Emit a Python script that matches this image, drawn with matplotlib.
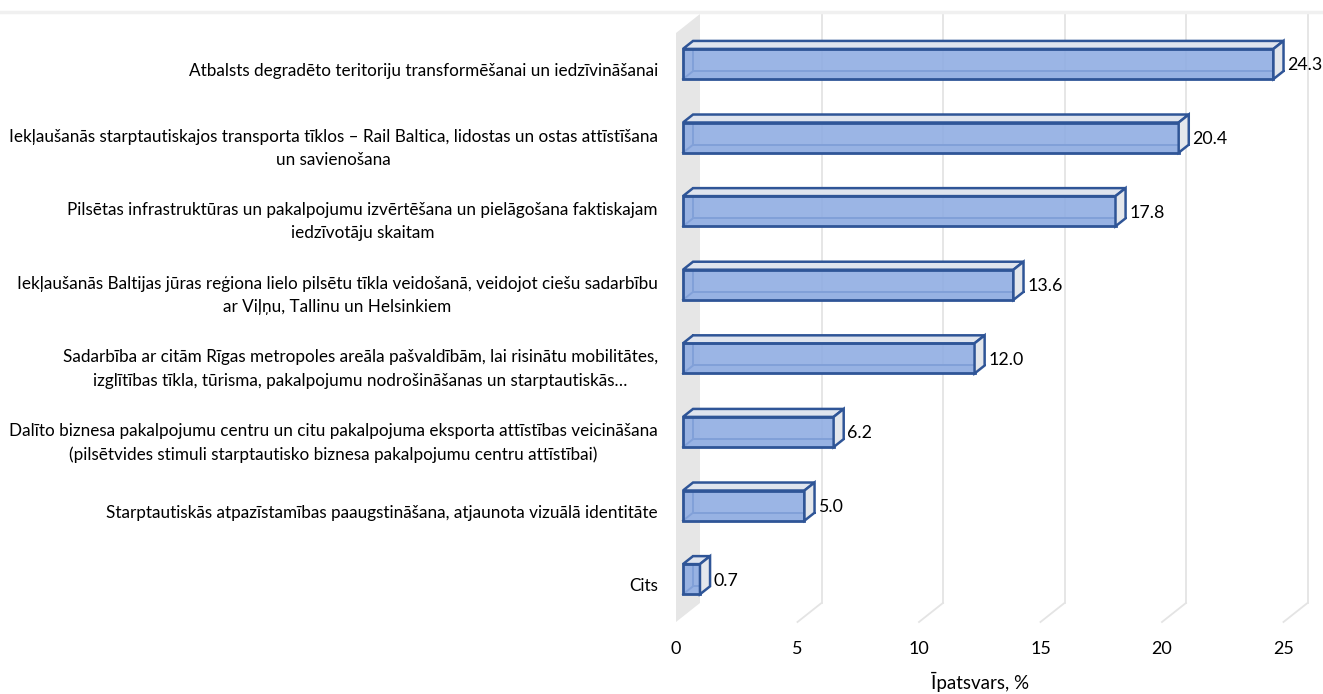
import matplotlib
matplotlib.use("Agg")
import matplotlib.pyplot as plt
from matplotlib.patches import Polygon
from matplotlib.lines import Line2D

plt.rcParams['font.family'] = ['Lato', 'DejaVu Sans']

categories = [
    "Atbalsts degradēto teritoriju transformēšanai un iedzīvināšanai",
    "Iekļaušanās starptautiskajos transporta tīklos – Rail Baltica, lidostas un ostas attīstīšana\nun savienošana",
    "Pilsētas infrastruktūras un pakalpojumu izvērtēšana un pielāgošana faktiskajam\niedzīvotāju skaitam",
    "Iekļaušanās Baltijas jūras reģiona lielo pilsētu tīkla veidošanā, veidojot ciešu sadarbību\nar Viļņu, Tallinu un Helsinkiem",
    "Sadarbība ar citām Rīgas metropoles areāla pašvaldībām, lai risinātu mobilitātes,\nizglītības tīkla, tūrisma, pakalpojumu nodrošināšanas un starptautiskās…",
    "Dalīto biznesa pakalpojumu centru un citu pakalpojuma eksporta attīstības veicināšana\n(pilsētvides stimuli starptautisko biznesa pakalpojumu centru attīstībai)",
    "Starptautiskās atpazīstamības paaugstināšana, atjaunota vizuālā identitāte",
    "Cits",
]
values = [24.3, 20.4, 17.8, 13.6, 12.0, 6.2, 5.0, 0.7]
value_labels = ["24.3", "20.4", "17.8", "13.6", "12.0", "6.2", "5.0", "0.7"]
xticks = [0, 5, 10, 15, 20, 25]
xlabel = "Īpatsvars, %"

W, H = 1323, 694
fig = plt.figure(figsize=(W / 100, H / 100), dpi=100)

px_per_unit = 24.3
left_px, right_px = 676, W
top_px, bottom_px = 14, 622
ax = fig.add_axes([left_px / W, (H - bottom_px) / H, (right_px - left_px) / W, (bottom_px - top_px) / H])
cat_px = 73.6
y0_px = 69.5
ax.set_xlim(0, (right_px - left_px) / px_per_unit)
ax.set_ylim((bottom_px - y0_px) / cat_px, (top_px - y0_px) / cat_px)
for s in ax.spines.values():
    s.set_visible(False)

DX = 24 / px_per_unit
DY = 19 / cat_px
ybot = ax.get_ylim()[0]
ytop = ax.get_ylim()[1]

def P(v, i, d):
    return (v + d * DX, i - d * DY)

wall = Polygon([P(0, ybot, 0), P(0, ybot, 1), (DX, ytop), (0, ytop + DY)],
               closed=True, facecolor="#e6e6e6", edgecolor="none", zorder=0, clip_on=False)
ax.add_patch(wall)

grid_c = "#e4e4e4"
for t in xticks[1:]:
    a = P(t, ybot, 0); b = P(t, ybot, 1)
    ax.add_line(Line2D([a[0], b[0]], [a[1], b[1]], color=grid_c, lw=1.3, zorder=0.5, clip_on=False))
    ax.add_line(Line2D([b[0], b[0]], [b[1], ytop], color=grid_c, lw=1.3, zorder=0.5, clip_on=False))

edge = "#2f5597"
top_c = "#dfe4ee"
side_c = "#e4e7ec"
h = 0.205
d0, d1 = 0.29, 0.71

for i, v in enumerate(values):
    t, b = i - h, i + h
    bottom_face = Polygon([P(0, b, d0), P(v, b, d0), P(v, b, d1), P(0, b, d1)],
                          closed=True, facecolor=top_c, edgecolor="none", zorder=1, clip_on=False)
    ax.add_patch(bottom_face)
    for (p, q) in [((0, b, d1), (v, b, d1)), ((0, t, d1), (0, b, d1)), ((0, b, d0), (0, b, d1))]:
        A = P(*p); B = P(*q)
        ax.add_line(Line2D([A[0], B[0]], [A[1], B[1]], color=edge, lw=1.4, zorder=1.5, clip_on=False))
    front = Polygon([P(0, t, d0), P(v, t, d0), P(v, b, d0), P(0, b, d0)],
                    closed=True, edgecolor=edge, lw=2.0, zorder=2, clip_on=False)
    front.set_facecolor((0x8d / 255, 0xab / 255, 0xe2 / 255, 0.88))
    ax.add_patch(front)
    top = Polygon([P(0, t, d0), P(v, t, d0), P(v, t, d1), P(0, t, d1)],
                  closed=True, facecolor=top_c, edgecolor=edge, lw=1.8, zorder=2.5, clip_on=False)
    ax.add_patch(top)
    side = Polygon([P(v, t, d0), P(v, t, d1), P(v, b, d1), P(v, b, d0)],
                   closed=True, facecolor=side_c, edgecolor=edge, lw=1.8, zorder=2.5, clip_on=False)
    ax.add_patch(side)
    lx, ly = P(v, i, d1)
    ax.text(lx + 0.15, i - d0 * DY + 0.02, value_labels[i], ha="left", va="center",
            fontsize=12.8, color="#000000", zorder=5, clip_on=False)

ax.set_yticks(range(len(categories)))
ax.set_yticklabels(categories, multialignment="center", fontsize=12.3, linespacing=1.55)
ax.tick_params(axis="y", length=0, pad=13)
ax.set_xticks(xticks)
ax.set_xticklabels([str(t) for t in xticks], fontsize=13)
ax.tick_params(axis="x", length=0, pad=14)
ax.set_xlabel(xlabel, fontsize=13.5)
ax.xaxis.set_label_coords((980 - left_px) / (right_px - left_px), -(682 - bottom_px) / (bottom_px - top_px))
ax.xaxis.label.set_va("center")
ax.patch.set_alpha(0)

fig.add_artist(Line2D([0, 1], [1 - 12 / H, 1 - 12 / H], color="#f0f0f0", lw=2.5, transform=fig.transFigure))

fig.savefig("out.png", dpi=100)
